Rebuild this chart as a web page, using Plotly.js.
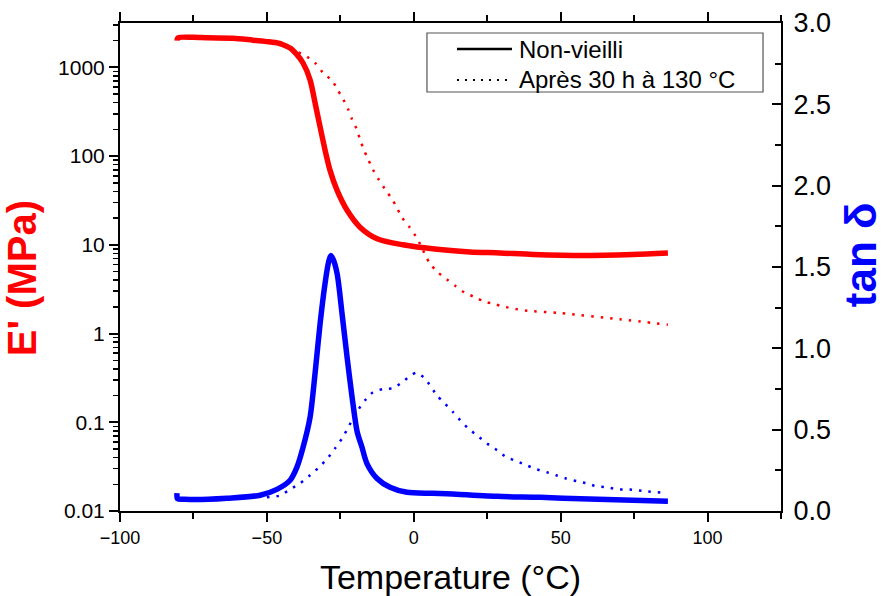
<!DOCTYPE html>
<html>
<head>
<meta charset="utf-8">
<script src="https://cdn.plot.ly/plotly-3.0.1.min.js"></script>
<style>html,body{margin:0;padding:0;background:#fff;}#chart{width:887px;height:596px;}</style>
</head>
<body>
<div id="chart"></div>
<script>
// Storage modulus E' (MPa) - non aged
const tempE_new = [-80.6,-80.3,-75,-70,-61.5,-55,-50,-46,-44.5,-42.1,-40,-37.7,-35.3,-33.6,-31.9,-30.2,-28.5,-26.1,-22.7,-18.3,-12.5,-3.7,7.9,19.1,29.3,40.6,57.6,74.6,86.5];
const E_new     = [2000,2150,2180,2150,2130,2030,1950,1870,1800,1650,1420,1120,724,398,214,117,69,41,24.5,15.8,11.7,10.0,8.9,8.3,8.1,7.8,7.6,7.8,8.1];
// Storage modulus E' (MPa) - after 30 h at 130 °C
const tempE_aged = [-80.3,-75,-70,-61.5,-55,-50,-46,-44.5,-42,-39.8,-36.4,-33.6,-30.9,-27.8,-26.0,-24.0,-22.3,-21.0,-19.4,-18.3,-17.05,-15.5,-13.9,-11.95,-9.7,-7.4,-5.6,-4.0,-1.5,0.65,2.35,3.8,5.5,8.2,11.3,14.4,17.4,20.8,24.2,27.6,31.0,34.4,37.8,50,70,86.5];
const E_aged     = [2150,2180,2150,2130,2030,1950,1870,1800,1700,1510,1320,1120,870,708,564,435,335,259,200,154,119,91.6,70.6,54.5,42.0,32.7,25.6,20.3,15.9,12.5,9.9,7.8,6.15,4.9,4.07,3.39,2.88,2.57,2.29,2.14,2.0,1.9,1.82,1.70,1.45,1.26];
// tan delta - non aged
const tempT_new = [-80.6,-80.4,-78,-70,-63.6,-52.3,-46.6,-42.1,-39.8,-37.7,-35.3,-33.6,-31.9,-30.2,-29,-28.3,-27.5,-26.1,-24.4,-22.7,-21.0,-19.3,-17.6,-15.9,-12.5,-8.1,-2.3,5.5,8.9,28.3,43,50.8,86.5];
const tan_new   = [0.11,0.075,0.072,0.072,0.078,0.097,0.133,0.189,0.268,0.39,0.576,0.846,1.15,1.40,1.53,1.57,1.55,1.46,1.21,0.945,0.70,0.49,0.39,0.29,0.20,0.146,0.115,0.109,0.107,0.090,0.084,0.078,0.060];
// tan delta - after 30 h at 130 °C
const tempT_aged = [-50,-45.5,-42.1,-38.7,-35.3,-32.3,-29.5,-26.8,-24.4,-22.4,-20.7,-19.0,-16.6,-13.9,-10.5,-7.1,-4.0,-1.3,0.8,3.8,7.9,10.6,13.4,15.7,18.4,21.5,24.9,28.3,31.6,35.1,38.5,41.9,45.3,48.4,51.8,55.5,59,62,65.8,69.2,72.6,76,79.4,86.2];
const tan_aged   = [0.085,0.095,0.133,0.17,0.22,0.268,0.32,0.385,0.447,0.51,0.57,0.62,0.68,0.73,0.75,0.755,0.79,0.83,0.85,0.815,0.71,0.66,0.607,0.56,0.51,0.465,0.416,0.374,0.33,0.306,0.28,0.256,0.238,0.22,0.20,0.183,0.17,0.152,0.146,0.133,0.133,0.127,0.121,0.109];

const legendNames = ["Non-vieilli", "Après 30 h à 130 °C"];

const RED = "#ff0000", BLUE = "#0000ff";
const dotDash = "2.5px,7px";
const NB = "\u00a0";

const traces = [
  {x: tempE_aged, y: E_aged, yaxis: "y", mode: "lines", line: {color: RED, width: 2.5, dash: dotDash, shape: "spline", smoothing: 0.8}, showlegend: false, hoverinfo: "skip"},
  {x: tempE_new, y: E_new, yaxis: "y", mode: "lines", line: {color: RED, width: 5.5, shape: "spline", smoothing: 0.8}, showlegend: false, hoverinfo: "skip"},
  {x: tempT_aged, y: tan_aged, yaxis: "y2", mode: "lines", line: {color: BLUE, width: 2.5, dash: dotDash, shape: "spline", smoothing: 0.6}, showlegend: false, hoverinfo: "skip"},
  {x: tempT_new, y: tan_new, yaxis: "y2", mode: "lines", line: {color: BLUE, width: 5.5, shape: "spline", smoothing: 0.8}, showlegend: false, hoverinfo: "skip"}
];

// manual legend (paper coordinates)
const lgX0 = 0.4644, lgX1 = 0.9728, lgY0 = 0.8586, lgY1 = 0.9795;
const lnX0 = 0.5098, lnX1 = 0.5930, txX = 0.6006;
const rowY = [0.9467, 0.8832];

const shapes = [
  {type: "rect", xref: "paper", yref: "paper", x0: lgX0, x1: lgX1, y0: lgY0, y1: lgY1, line: {color: "#555", width: 1.2}, fillcolor: "#fff", layer: "above"},
  {type: "line", xref: "paper", yref: "paper", x0: lnX0, x1: lnX1, y0: rowY[0], y1: rowY[0], line: {color: "#000", width: 2.5}, layer: "above"},
  {type: "line", xref: "paper", yref: "paper", x0: lnX0, x1: lnX1, y0: rowY[1], y1: rowY[1], line: {color: "#000", width: 2.2, dash: "2px,6px"}, layer: "above"}
];
const annotations = legendNames.map((n, i) => ({
  xref: "paper", yref: "paper", x: txX, y: rowY[i], xanchor: "left", yanchor: "middle",
  text: n, showarrow: false, font: {size: 24, color: "#000"}
}));

const layout = {
  width: 887, height: 596,
  margin: {l: 120, r: 106, t: 23, b: 85},
  paper_bgcolor: "#fff", plot_bgcolor: "#fff",
  font: {family: "Liberation Sans, Arial, sans-serif", color: "#000"},
  showlegend: false,
  shapes: shapes,
  annotations: annotations,
  xaxis: {
    range: [-100, 125], dtick: 50, tick0: 0, showgrid: false, zeroline: false,
    showline: true, linewidth: 2, linecolor: "#000", mirror: "ticks",
    ticks: "outside", ticklen: 9, tickwidth: 2, tickcolor: "#000",
    tickfont: {size: 18},
    minor: {dtick: 25, tick0: 0, ticks: "outside", ticklen: 6, tickwidth: 2, tickcolor: "#000", showgrid: false},
    title: {text: "Temperature (°C)", font: {size: 34}, standoff: 19}
  },
  yaxis: {
    type: "log", range: [-2, 3.5], dtick: 1, showgrid: false, zeroline: false,
    showline: true, linewidth: 2, linecolor: "#000",
    ticks: "outside", ticklen: 9, tickwidth: 2, tickcolor: "#000",
    tickfont: {size: 21},
    minor: {dtick: "D1", ticks: "outside", ticklen: 5, tickwidth: 1.5, tickcolor: "#000", showgrid: false},
    title: {text: "<b>E' (MPa)" + NB + NB + "</b>", font: {size: 40, color: RED}, standoff: 14}
  },
  yaxis2: {
    overlaying: "y", side: "right", range: [0, 3], dtick: 0.5, tick0: 0, tickformat: ".1f",
    showgrid: false, zeroline: false, showline: true, linewidth: 2, linecolor: "#000",
    ticks: "inside", ticklen: 9, tickwidth: 2, tickcolor: "#000",
    tickfont: {size: 27}, ticklabelstandoff: 5,
    minor: {dtick: 0.25, tick0: 0, ticks: "inside", ticklen: 6, tickwidth: 2, tickcolor: "#000", showgrid: false},
    title: {text: "<b>" + NB + NB + "tan δ</b>", font: {size: 44, color: BLUE}, standoff: 15}
  }
};

Plotly.newPlot("chart", traces, layout, {displayModeBar: false, staticPlot: true});
</script>
</body>
</html>
